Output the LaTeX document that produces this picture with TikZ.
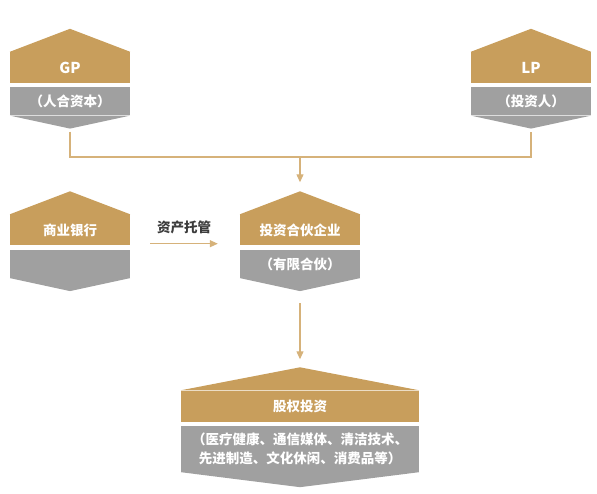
\documentclass[tikz,border=0pt]{standalone}
\usepackage{fontspec}
\setmainfont{Noto Sans CJK SC}
\usepackage{tikz}
\usetikzlibrary{arrows.meta, positioning, calc}

\definecolor{gold}{RGB}{200,158,92}
\definecolor{slate}{RGB}{160,160,160}
\definecolor{wire}{RGB}{214,178,122}
\definecolor{ink}{RGB}{60,60,60}

\begin{document}
\begin{tikzpicture}[
      x=1pt, y=1pt,
      font=\fontsize{13.5}{19}\selectfont\bfseries,
      head/.style={fill=gold, text=white, minimum height=31pt,
                   inner sep=0pt, align=center},
      sub/.style={fill=slate, text=white, minimum height=28pt,
                  inner xsep=0pt, inner ysep=7pt, align=center},
      wire/.style={draw=wire, line width=1.2pt},
      flow/.style={wire, -{Triangle[width=7pt, length=8pt]}},
    ]
    \useasboundingbox (0,0) rectangle (597,-494);

    % each block: gold roof + gold band, grey band + grey keel
    % name / centre x / band centre y / width / keel depth / title / subtitle
    \foreach \nm/\cx/\cy/\bw/\kd/\ttl/\sbt in {
        gp/70/67.5/120/13/{\fontsize{15}{18}\selectfont GP}/{（人合资本）},
        lp/531/67.5/120/13/{\fontsize{15}{18}\selectfont LP}/{（投资人）},
        bank/70/230/120/13/{商业银行}/{},
        fund/300/230/120/13/{投资合伙企业}/{（有限合伙）},
        equity/300/406/238/15/{股权投资}/{（医疗健康、通信媒体、清洁技术、\\先进制造、文化休闲、消费品等）}} {
      \node[head, minimum width=\bw] (\nm) at (\cx,-\cy) {\ttl};
      \coordinate (\nm-top) at ($(\nm.north)+(0,23)$);
      \fill[gold] (\nm.north west) -- (\nm-top) -- (\nm.north east) -- cycle;
      \node[sub, minimum width=\bw, below=4pt of \nm] (\nm-s) {\sbt};
      \coordinate (\nm-tip) at ($(\nm-s.south)+(0,-\kd)$);
      \fill[slate] (\nm-s.south west) -- (\nm-tip) -- (\nm-s.south east) -- cycle;
    }

    % GP and LP join above the fund
    \coordinate (merge) at (300,-157);
    \draw[wire] ([yshift=-3pt]gp-tip) |- (merge) -| ([yshift=-3pt]lp-tip);
    \draw[flow] (merge) -- ([yshift=9pt]fund-top);

    % custody
    \draw[flow] ([shift={(20pt,2pt)}]bank.south east)
      -- ([shift={(-22pt,2pt)}]fund.south west)
      node[midway, above=9pt, inner sep=0pt, text=ink] {资产托管};

    % fund into equity investment
    \draw[flow] ([yshift=-12pt]fund-tip) -- ([yshift=8pt]equity-top);
  \end{tikzpicture}
\end{document}
